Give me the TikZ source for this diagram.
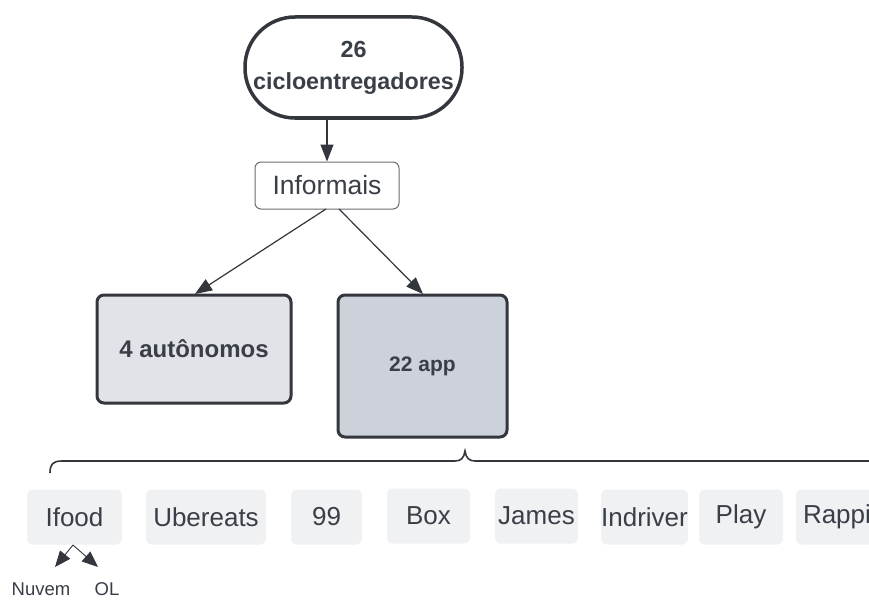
\documentclass[tikz,border=0pt]{standalone}
\usepackage{fontspec}
\setmainfont{Liberation Sans}
\usetikzlibrary{arrows.meta}
\definecolor{ink}{HTML}{33363D}
\definecolor{txt}{HTML}{3A3E47}
\definecolor{fillA}{HTML}{E1E3E8}
\definecolor{fillB}{HTML}{CDD2DA}
\definecolor{chip}{HTML}{F0F1F3}
\definecolor{thin}{HTML}{6A6D73}
\tikzset{
  arr/.style={draw=ink, line width=1.2pt, -{Triangle[length=17pt,width=13pt]}},
  smallarr/.style={draw=ink, line width=0.9pt, -{Triangle[length=16pt,width=13pt]}},
  bigbox/.style={draw=ink, line width=3pt, rounded corners=7pt, inner sep=0pt, text=txt, font=\bfseries},
  chipbox/.style={fill=chip, rounded corners=6pt, inner sep=0pt, minimum height=55pt, text=txt, font=\fontsize{26}{30}\selectfont},
  lbl/.style={text=txt, inner sep=0pt, font=\fontsize{18.5}{20}\selectfont}
}
\begin{document}
\begin{tikzpicture}[x=1pt,y=-1pt]
\useasboundingbox (0,0) rectangle (869,599);
\clip (0,0) rectangle (869,599);
\fill[white] (0,0) rectangle (869,599);
% top pill
\node[draw=ink, line width=3.5pt, rounded corners=50pt, minimum width=217pt, minimum height=101pt, inner sep=0pt, text=txt, align=center, font=\bfseries\fontsize{23.3}{32}\selectfont] (top) at (353.5,67.5) {26\\cicloentregadores};
% informais
\node[draw=thin, line width=1pt, rounded corners=6pt, minimum width=144pt, minimum height=47pt, inner sep=0pt, text=txt, font=\fontsize{26.5}{30}\selectfont] (inf) at (327,185.5) {Informais};
\draw[arr] (top.south -| inf.north) -- (inf.north);
% boxes
\node[bigbox, fill=fillA, minimum width=194pt, minimum height=108pt, font=\bfseries\fontsize{24}{28}\selectfont] (aut) at (194,349) {4 autônomos};
\node[bigbox, fill=fillB, minimum width=169pt, minimum height=142pt, font=\bfseries\fontsize{21}{25}\selectfont] (app) at (422.5,366) {22 app};
\coordinate (s1) at (326,209);
\coordinate (s2) at (339,209);
\coordinate (e1) at (195,294);
\coordinate (e2) at (423,294);
\draw[arr] (s1) -- (e1);
\draw[arr] (s2) -- (e2);
% brace
\draw[ink, line width=1.6pt] (50,473) .. controls (50,464) and (53,461) .. (62,461) -- (455,461) .. controls (461,461) and (464,458) .. (465,451) .. controls (466,458) and (469,461) .. (475,461) -- (875,461);
% chips
\node[chipbox, minimum width=95pt] (c1) at (74.5,517) {Ifood};
\node[chipbox, minimum width=120pt] (c2) at (206,517) {Ubereats};
\node[chipbox, minimum width=71pt] (c3) at (326.5,517) {99};
\node[chipbox, minimum width=83pt] (c4) at (428.5,516) {Box};
\node[chipbox, minimum width=83pt] (c5) at (536.5,516) {James};
\node[chipbox, minimum width=83pt] (c6) at (644.5,517) {Indriver};
\node[chipbox, minimum width=84pt] (c7) at (741,517) {Play};
\node[chipbox, minimum width=84pt, text width=84pt, align=left] (c8) at (838,517) {\hspace*{7pt}Rappi};
% nuvem / OL
\coordinate (ap) at (73,545);
\coordinate (l1) at (55,567);
\coordinate (l2) at (98,567);
\draw[smallarr] (ap) -- (l1);
\draw[smallarr] (ap) -- (l2);
\node[lbl] (nuv) at (41,589) {Nuvem};
\node[lbl] (ol) at (107,589) {OL};
\end{tikzpicture}
\end{document}
